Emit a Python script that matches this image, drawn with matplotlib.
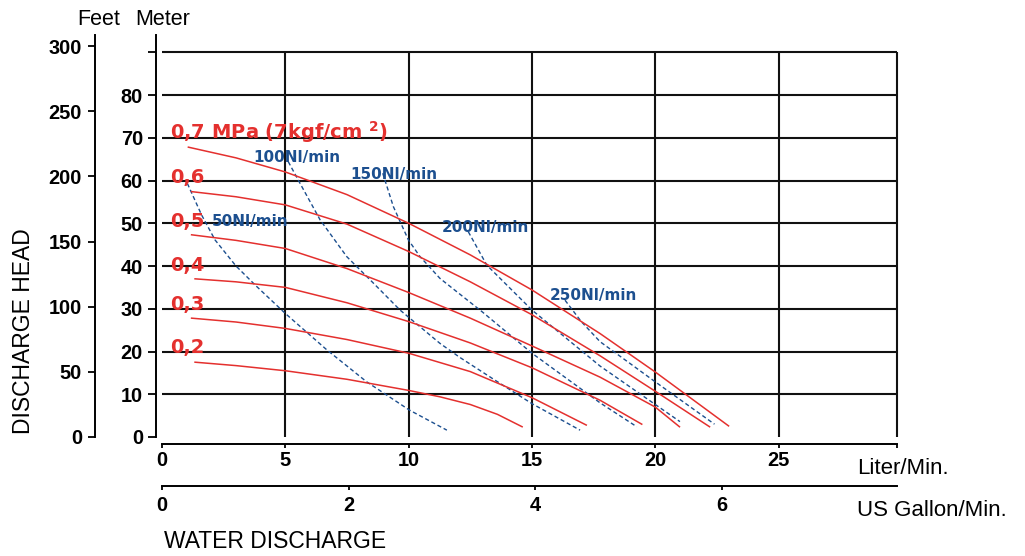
import numpy as np
import matplotlib
matplotlib.use("Agg")
import matplotlib.pyplot as plt

# pump curves, flow in liter/min, head in meter
# red lines = air supply pressure
flow_07 = [1.07, 3.0, 5.0, 7.5, 10.0, 12.5, 15.0, 17.76, 20.0, 22.97]
head_07 = [67.8, 65.3, 62.0, 56.7, 50.0, 42.6, 34.4, 24.2, 15.2, 2.6]
flow_06 = [1.2, 3.0, 5.0, 7.5, 10.0, 12.5, 15.0, 17.76, 20.0, 22.2]
head_06 = [57.4, 56.2, 54.3, 49.8, 43.4, 36.3, 28.6, 19.0, 10.7, 2.4]
flow_05 = [1.2, 3.0, 5.0, 7.5, 10.0, 12.5, 15.0, 17.76, 20.0, 20.98]
head_05 = [47.3, 46.0, 44.1, 39.4, 33.8, 27.8, 21.3, 14.0, 7.0, 2.4]
flow_04 = [1.34, 3.0, 5.0, 7.5, 10.0, 12.5, 15.0, 17.76, 19.45]
head_04 = [37.0, 36.3, 35.0, 31.4, 27.0, 22.0, 16.2, 8.6, 3.0]
flow_03 = [1.2, 3.0, 5.0, 7.5, 10.0, 12.5, 15.0, 17.2]
head_03 = [27.8, 26.9, 25.4, 22.8, 19.6, 15.3, 9.2, 2.8]
flow_02 = [1.34, 3.0, 5.0, 7.5, 10.0, 11.27, 12.5, 13.6, 14.6]
head_02 = [17.5, 16.7, 15.5, 13.5, 10.9, 9.4, 7.6, 5.3, 2.4]

# blue dashed = air consumption
air_50_flow = [1.03, 1.6, 2.15, 3.0, 3.84, 5.0, 6.68, 8.3, 10.03, 11.55]
air_50_head = [59.3, 52.0, 46.1, 40.0, 35.2, 28.9, 20.4, 12.9, 6.3, 1.6]
air_100_flow = [5.12, 5.6, 6.41, 7.49, 8.57, 9.65, 11.27, 12.08, 13.5, 15.0, 16.95]
air_100_head = [64.4, 59.3, 50.8, 42.2, 36.0, 29.7, 21.9, 18.6, 13.3, 7.8, 1.6]
air_150_flow = [8.95, 9.38, 9.99, 10.46, 11.27, 13.0, 15.0, 17.76, 19.25]
air_150_head = [61.7, 53.9, 46.1, 42.2, 37.1, 29.2, 19.6, 8.0, 2.4]
air_200_flow = [12.42, 13.17, 15.0, 17.76, 20.0, 21.0]
air_200_head = [48.0, 40.2, 29.7, 16.6, 7.6, 3.6]
air_250_flow = [16.34, 17.0, 17.76, 20.0, 22.4]
air_250_head = [32.0, 27.0, 22.3, 12.9, 3.0]

pressure_labels = [r"0,7 MPa (7kgf/cm $^{\mathbf{2}}$)", "0,6", "0,5", "0,4", "0,3", "0,2"]
pressure_label_head = [71.3, 60.8, 50.5, 40.2, 30.9, 21.0]
air_labels = ["50Nl/min", "100Nl/min", "150Nl/min", "200Nl/min", "250Nl/min"]
air_label_pos = [(2.01, 50.4), (3.69, 65.4), (7.65, 61.4), (11.34, 48.9), (15.73, 33.0)]

liter_ticks = [0, 5, 10, 15, 20, 25]
gallon_ticks = [0, 2, 4, 6]
meter_ticks = [0, 10, 20, 30, 40, 50, 60, 70, 80, 90]
feet_ticks = [0, 50, 100, 150, 200, 250, 300]

XMAX = 29.8
YMAX = 94.04
RED = "#e4302e"
BLUE = "#1c4f8f"
GRID = "#111111"

plt.rcParams['font.family'] = ['Liberation Sans', 'DejaVu Sans']
plt.rcParams['mathtext.fontset'] = 'dejavusans'

fig = plt.figure(figsize=(10.25, 5.56), dpi=100)
W, H = 1025.0, 556.0
ax = fig.add_axes([162 / W, 119 / H, 735 / W, 402 / H])
ax.set_xlim(0, XMAX)
ax.set_ylim(0, YMAX)

# grid drawn by hand, no line at 0 m
ax.hlines(meter_ticks[1:], 0, XMAX, color=GRID, lw=1.5, clip_on=False, zorder=1)
ax.vlines(liter_ticks[1:] + [XMAX], 0, 90, color=GRID, lw=1.5, clip_on=False, zorder=1)

curves = [(flow_07, head_07), (flow_06, head_06), (flow_05, head_05),
          (flow_04, head_04), (flow_03, head_03), (flow_02, head_02)]
for fl, hd in curves:
    ax.plot(fl, hd, color=RED, lw=1.1, zorder=3, solid_joinstyle='round')

air = [(air_50_flow, air_50_head), (air_100_flow, air_100_head),
       (air_150_flow, air_150_head), (air_200_flow, air_200_head),
       (air_250_flow, air_250_head)]
for fl, hd in air:
    ax.plot(fl, hd, color=BLUE, lw=1.0, dashes=(3, 2), zorder=2)

for lab, yy in zip(pressure_labels, pressure_label_head):
    ax.text(0.32, yy, lab, color=RED, fontsize=14, fontweight='bold',
            family='DejaVu Sans', ha='left', va='center', zorder=4)
for lab, (xx, yy) in zip(air_labels, air_label_pos):
    ax.text(xx, yy, lab, color=BLUE, fontsize=11, fontweight='bold',
            family='DejaVu Sans', ha='left', va='center', zorder=4)

# spines
for s in ['top', 'right']:
    ax.spines[s].set_visible(False)
ax.spines['left'].set_position(('outward', 6 * 0.72))
ax.spines['left'].set_linewidth(1.4)
ax.spines['bottom'].set_position(('outward', 7 * 0.72))
ax.spines['bottom'].set_linewidth(1.4)

tick_font = dict(fontsize=14.4, fontweight='bold')

ax.set_yticks(meter_ticks)
ax.set_yticklabels([str(t) for t in meter_ticks[:-1]] + [''], **tick_font)
ax.tick_params(axis='y', direction='out', length=5.8, width=1.3, pad=3.6)
ax.set_xticks(liter_ticks + [XMAX])
ax.set_xticklabels([str(t) for t in liter_ticks] + [''], **tick_font)
ax.tick_params(axis='x', direction='out', length=2.9, width=1.3, pad=2.2)

# feet scale on the far left
feet = ax.secondary_yaxis(-(162 - 95) / 735.0,
                          functions=(lambda m: m * 3.28084, lambda f: f / 3.28084))
feet.set_yticks(feet_ticks)
feet.set_yticklabels([str(t) for t in feet_ticks], **tick_font)
feet.tick_params(direction='out', length=5.0, width=1.3, pad=4.3)
feet.spines['left'].set_linewidth(1.4)

# gallon scale below
gal = ax.secondary_xaxis(-(486 - 437) / 402.0,
                         functions=(lambda l: l / 3.785, lambda g: g * 3.785))
gal.set_xticks(gallon_ticks)
gal.set_xticklabels([str(t) for t in gallon_ticks], **tick_font)
gal.tick_params(direction='out', length=2.9, width=1.3, pad=4.0)
gal.spines['bottom'].set_linewidth(1.4)

# axis titles
fig.text(77 / W, 1 - 19.5 / H, "Feet", fontsize=15.5, ha='left', va='center')
fig.text(135 / W, 1 - 19.5 / H, "Meter", fontsize=15.5, ha='left', va='center')
fig.text(24 / W, 1 - 331 / H, "DISCHARGE HEAD", fontsize=16.5, rotation=90,
         ha='center', va='center')
fig.text(857 / W, 1 - 468 / H, "Liter/Min.", fontsize=16, ha='left', va='center')
fig.text(857 / W, 1 - 510 / H, "US Gallon/Min.", fontsize=16, ha='left', va='center')
fig.text(164 / W, 1 - 542 / H, "WATER DISCHARGE", fontsize=16.5, ha='left', va='center')

fig.savefig("out.png", dpi=100)
